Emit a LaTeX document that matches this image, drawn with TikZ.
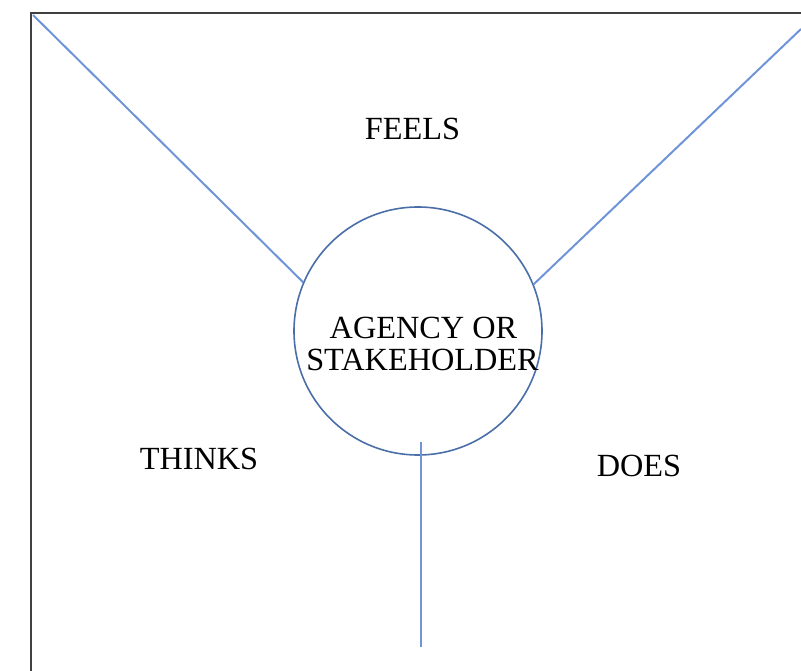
\documentclass[tikz,border=0pt]{standalone}
\usepackage{fontspec}
\setmainfont{Liberation Serif}
\definecolor{spoke}{HTML}{6F95D8}
\definecolor{ring}{HTML}{4A6FA8}
\definecolor{frame}{HTML}{404040}
\begin{document}
\begin{tikzpicture}[x=1pt,y=-1pt,
  spokeline/.style={draw=spoke,line width=2pt},
  label/.style={anchor=base,inner sep=0pt,font=\fontsize{32.3}{36}\selectfont,text=black}]
\clip (0,0) rectangle (801,671);
\fill[white] (0,0) rectangle (801,671);
\draw[frame,line width=2.6pt] (31,13) rectangle (820,690);
\node[circle,draw=ring,line width=1.6pt,minimum size=248pt,inner sep=0pt] (c) at (418,331) {};
\coordinate (tl) at (33,15);
\coordinate (tr) at (801,29);
\coordinate (vb) at (421,442);
\coordinate (ve) at (421,647);
\draw[spokeline] (tl) -- (c.157.5);
\draw[spokeline] (tr) -- (c.22.3);
\draw[spokeline] (vb) -- (ve);
\node[label] (feels) at (412.5,140) {FEELS};
\node[label] (thinks) at (199,469) {THINKS};
\node[label] (does) at (639,476) {DOES};
\node[label] (agency) at (423.5,338) {AGENCY OR};
\node[label] (stake) at (422.5,370) {STAKEHOLDER};
\end{tikzpicture}
\end{document}
